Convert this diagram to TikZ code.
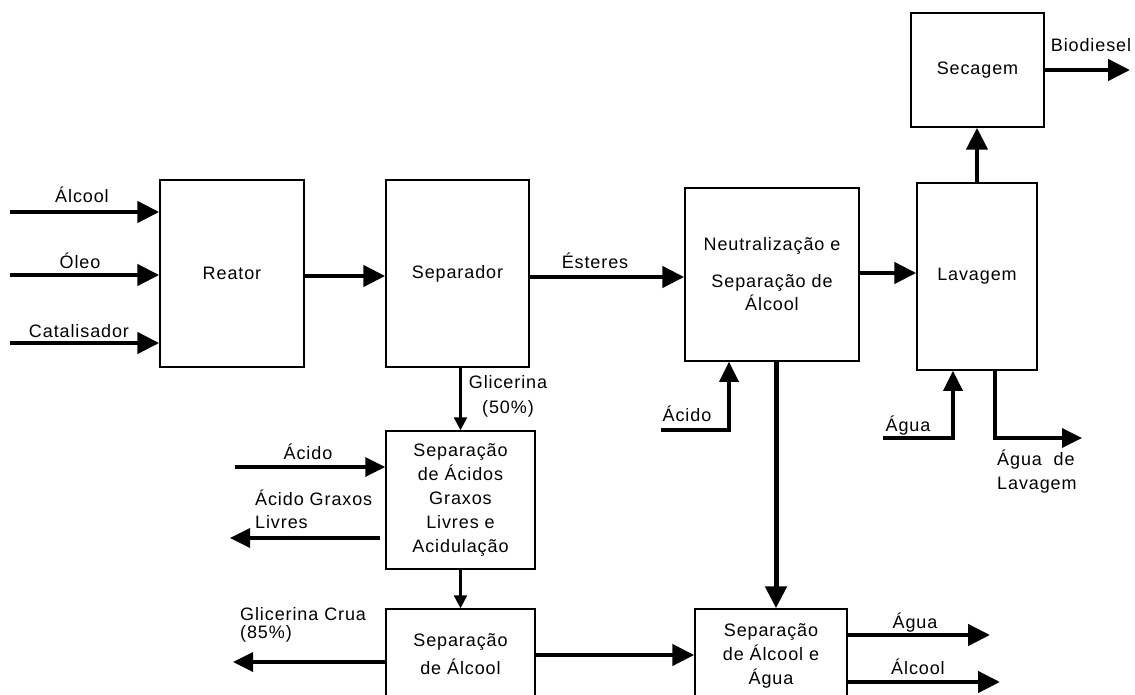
\documentclass[tikz,border=0pt]{standalone}
\usepackage{fontspec}
\setmainfont{Liberation Sans}[LetterSpace=5]
\usetikzlibrary{arrows.meta}
\newcommand\dfont{\fontsize{18}{24}\selectfont}
\tikzset{
  box/.style={draw, line width=1.5pt, align=center, inner sep=0pt, font=\dfont},
  lbl/.style={inner sep=0pt, font=\dfont},
  bigflow/.style={line width=4.5pt, -{Triangle[length=22pt,width=21pt]}},
  midflow/.style={line width=3.5pt, -{Triangle[length=20pt,width=19pt]}},
  thinflow/.style={line width=2.5pt, -{Triangle[length=13pt,width=13pt]}}
}
\begin{document}
\begin{tikzpicture}[x=1pt,y=-1pt]
\useasboundingbox (0,0) rectangle (1135,695);
\clip (0,0) rectangle (1135,695);
\fill[white] (0,0) rectangle (1135,695);

% boxes
\node[box, minimum width=144pt, minimum height=187pt] (reator) at (232,273.5) {Reator};
\node[box, minimum width=143pt, minimum height=187pt] (sep) at (457.5,273.5) {Separador};
\node[box, minimum width=174pt, minimum height=173pt] (neut) at (772,274.5) {Neutralização e\\[13pt]Separação de\\[-1pt]Álcool};
\node[box, minimum width=120pt, minimum height=187pt] (lav) at (977,276.5) {Lavagem};
\node[box, minimum width=133pt, minimum height=114pt] (sec) at (977.5,70) {Secagem};
\node[box, minimum width=149pt, minimum height=138pt] (sepac) at (460.5,500) {Separação\\de Ácidos\\Graxos\\Livres e\\Acidulação};
\node[box, minimum width=149pt, minimum height=90pt] (sepal) at (460.5,654) {Separação\\[4pt]de Álcool};
\node[box, minimum width=152pt, minimum height=93pt] (sepaa) at (771,655.5) {Separação\\de Álcool e\\Água};

% free ends
\coordinate (inA) at (10,212);
\coordinate (inO) at (10,275);
\coordinate (inC) at (10,343);
\coordinate (bio) at (1130,70);
\coordinate (acn) at (661,430);
\coordinate (acnk) at (729,430);
\coordinate (agin) at (883,438);
\coordinate (agink) at (953,438);
\coordinate (alvs) at (995,370);
\coordinate (alvk) at (995,438);
\coordinate (alv) at (1082,438);
\coordinate (acs) at (235,467);
\coordinate (agl) at (230,538);
\coordinate (gcr) at (233,662);
\coordinate (aguo) at (990,635);
\coordinate (alco) at (1000,682);

% connectors
\draw[bigflow] (inA) -- (inA -| reator.west);
\draw[bigflow] (inO) -- (inO -| reator.west);
\draw[bigflow] (inC) -- (inC -| reator.west);
\draw[bigflow] ([yshift=-2.5pt]reator.east) -- ([yshift=-2.5pt]reator.east -| sep.west);
\draw[bigflow] ([yshift=-3.5pt]sep.east) -- ([yshift=-3.5pt]sep.east -| neut.west);
\draw[bigflow] ([yshift=1.5pt]neut.east) -- ([yshift=1.5pt]neut.east -| lav.west);
\draw[bigflow] (lav.north) -- (lav.north |- sec.south);
\draw[bigflow] (sec.east) -- (sec.east -| bio);
\draw[midflow] (acn) -- (acnk) -- (acnk |- neut.south);
\draw[line width=5pt, -{Triangle[length=22pt,width=21pt]}] ([xshift=4pt]neut.south) -- ([xshift=4pt]neut.south |- sepaa.north);
\draw[midflow] (agin) -- (agink) -- (agink |- lav.south);
\draw[midflow] (alvs) -- (alvk) -- (alv);
\draw[thinflow] (sep.south -| sepac.north) -- (sepac.north);
\draw[thinflow] (sepac.south) -- (sepal.north);
\draw[midflow] (acs) -- (acs -| sepac.west);
\draw[midflow] ([xshift=-5pt]agl -| sepac.west) -- (agl);
\draw[midflow] (gcr -| sepal.west) -- (gcr);
\draw[bigflow] ([yshift=-1pt]sepal.east) -- ([yshift=-1pt]sepal.east -| sepaa.west);
\draw[bigflow] (aguo -| sepaa.east) -- (aguo);
\draw[bigflow] (alco -| sepaa.east) -- (alco);

% labels
\node[lbl, anchor=base] (lA) at (82,203) {Álcool};
\node[lbl, anchor=base] (lO) at (80,268) {Óleo};
\node[lbl, anchor=base] (lC) at (79,337) {Catalisador};
\node[lbl, anchor=base] (lE) at (595,269) {Ésteres};
\node[lbl, anchor=base] (lB) at (1091,52) {Biodiesel};
\node[lbl, anchor=base] (lAcN) at (687,421) {Ácido};
\node[lbl, anchor=base] (lAgI) at (908,431) {Água};
\node[lbl, anchor=base west] (lAL1) at (997,465) {Água\ \ de};
\node[lbl, anchor=base west] (lAL2) at (997,489) {Lavagem};
\node[lbl, anchor=base] (lG1) at (508,388) {Glicerina};
\node[lbl, anchor=base] (lG2) at (508,413) {(50\%)};
\node[lbl, anchor=base] (lAcS) at (308,459) {Ácido};
\node[lbl, anchor=base west] (lAG1) at (255,505) {Ácido Graxos};
\node[lbl, anchor=base west] (lAG2) at (255,528) {Livres};
\node[lbl, anchor=base west] (lGC1) at (240,620) {Glicerina Crua};
\node[lbl, anchor=base west] (lGC2) at (240,638) {(85\%)};
\node[lbl, anchor=base] (lAgO) at (915,628) {Água};
\node[lbl, anchor=base] (lAlO) at (918,674) {Álcool};
\end{tikzpicture}
\end{document}
